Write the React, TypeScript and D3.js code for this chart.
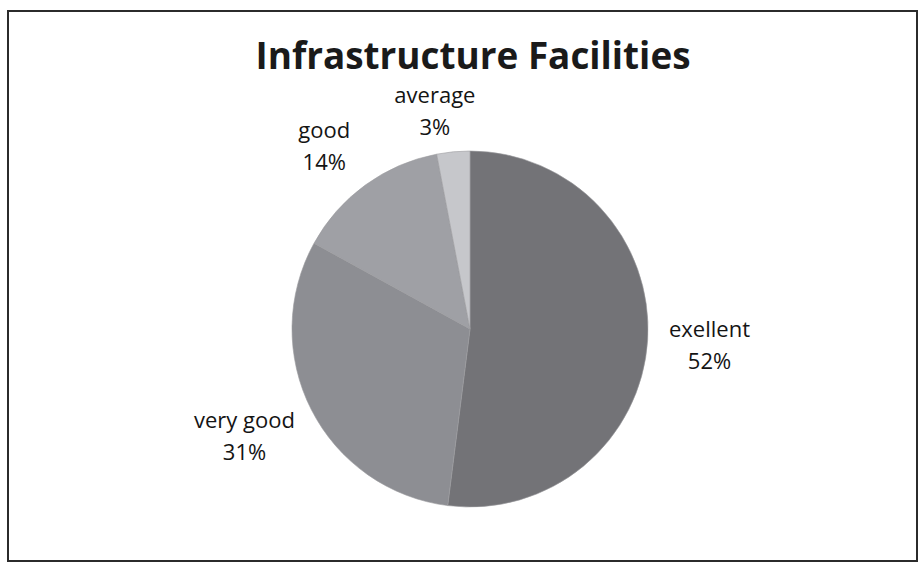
import * as d3 from "d3";
import React, { useEffect, useRef } from "react";

const categories = ["exellent", "very good", "good", "average"];
const percents = [52, 31, 14, 3];
const sliceColors = ["#737377", "#8d8e93", "#9fa0a5", "#c6c7cb"];

const chartTitle = "Infrastructure Facilities";

// small hand nudges so labels sit where Excel put them
const labelNudge: [number, number][] = [
  [0, 4],
  [-7, 5],
  [-17, 4],
  [-13, 12],
];

const PieChart = () => {
  const svgRef = useRef<SVGSVGElement>(null);

  useEffect(() => {
    const width = 921;
    const height = 566;
    const cx = 470;
    const cy = 329;
    const radius = 178;

    const svg = d3.select(svgRef.current);
    svg.selectAll("*").remove();
    svg.attr("width", width).attr("height", height);

    // frame
    svg
      .append("rect")
      .attr("x", 8)
      .attr("y", 11)
      .attr("width", 909)
      .attr("height", 550)
      .attr("fill", "#fff")
      .attr("stroke", "#2b2b2b")
      .attr("stroke-width", 2);

    // title
    svg
      .append("text")
      .text(chartTitle)
      .attr("x", 473)
      .attr("y", 69)
      .attr("text-anchor", "middle")
      .attr("textLength", 435)
      .attr("lengthAdjust", "spacingAndGlyphs")
      .style("font-family", "'Open Sans', 'Noto Sans', sans-serif")
      .style("font-weight", "bold")
      .style("font-size", "37px")
      .style("fill", "#1a1a1a");

    const rows = categories.map((c, i) => ({ name: c, value: percents[i], idx: i }));

    const pie = d3
      .pie<{ name: string; value: number; idx: number }>()
      .sort(null)
      .value((d) => d.value)
      .startAngle(0)
      .endAngle(2 * Math.PI);
    const arcs = pie(rows);

    const arc = d3
      .arc<d3.PieArcDatum<{ name: string; value: number; idx: number }>>()
      .innerRadius(0)
      .outerRadius(radius);

    const g = svg.append("g").attr("transform", `translate(${cx},${cy})`);

    g.selectAll("path.slice")
      .data(arcs)
      .enter()
      .append("path")
      .attr("class", "slice")
      .attr("d", arc)
      .attr("fill", (d) => sliceColors[d.data.idx])
      .attr("stroke", "#9a9a9e")
      .attr("stroke-width", 0.6);

    // labels outside end
    const pad = 20;
    const lineGap = 32;
    arcs.forEach((d) => {
      const a = (d.startAngle + d.endAngle) / 2;
      const px = Math.sin(a) * (radius + pad);
      const py = -Math.cos(a) * (radius + pad);
      const w = Math.max(d.data.name.length, 3) * 10.5;
      const h = 62;
      const [nx, ny] = labelNudge[d.data.idx];
      const lx = cx + px + (Math.sin(a) * w) / 2 + nx;
      const ly = cy + py - (Math.cos(a) * h) / 2 + ny;

      const t = svg
        .append("text")
        .attr("text-anchor", "middle")
        .style("font-family", "'Open Sans', 'Noto Sans', sans-serif")
        .style("font-size", "22px")
        .style("fill", "#141414");
      t.append("tspan").attr("x", lx).attr("y", ly - 10).text(d.data.name);
      t.append("tspan")
        .attr("x", lx)
        .attr("y", ly - 10 + lineGap)
        .text(`${d.data.value}%`);
    });
  }, []);

  return <svg ref={svgRef} style={{ display: "block" }}></svg>;
};

const App = () => {
  return (
    <div style={{ position: "absolute", left: 0, top: 0 }}>
      <PieChart />
    </div>
  );
};

export default App;
